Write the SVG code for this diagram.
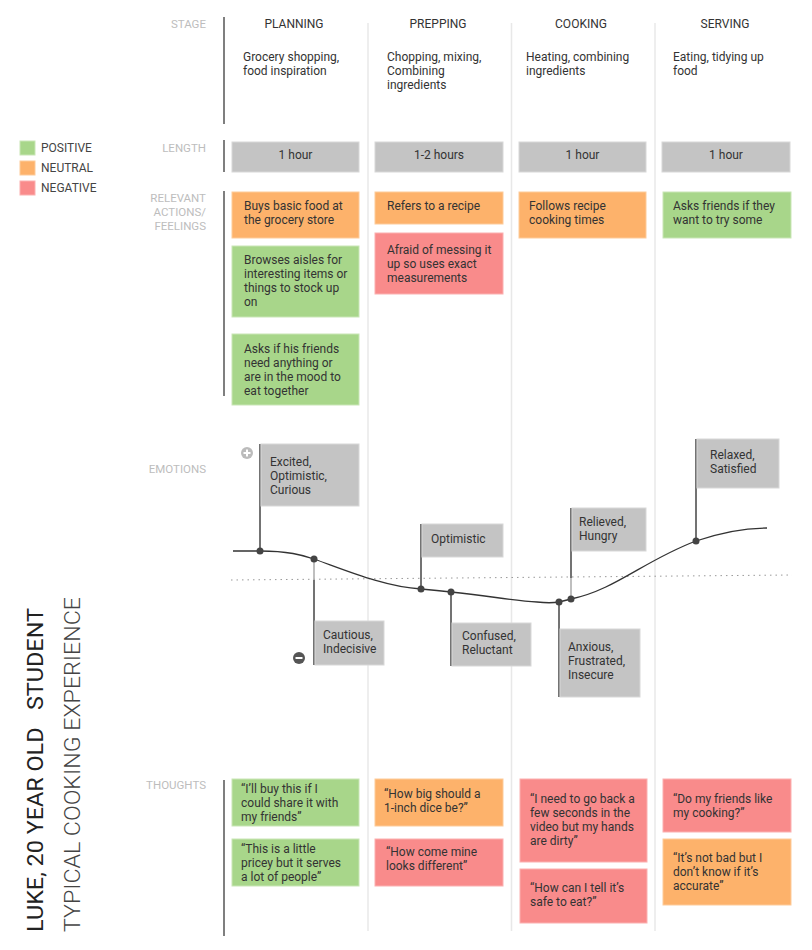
<svg xmlns="http://www.w3.org/2000/svg" width="812" height="950" viewBox="0 0 812 950">
<style>
text{font-family:Roboto,"Liberation Sans",Arial,sans-serif}
.lbl{fill:#bdbdbd;font-size:11.5px;text-anchor:end}
.ttl{fill:#333;font-size:12px;text-anchor:middle}
.txt{fill:#333;font-size:12px}
.ctr{fill:#333;font-size:12px;text-anchor:middle}
.leg{fill:#444;font-size:12px}
.pos{fill:#a8d68a;stroke:#c9e6b6;stroke-width:1}
.neu{fill:#fdb26b;stroke:#fdcb9a;stroke-width:1}
.neg{fill:#f98b8b;stroke:#fbb0b0;stroke-width:1}
.gry{fill:#c4c4c4;stroke:#d8d8d8;stroke-width:1}
.div{stroke:#e8e8e8;stroke-width:1.5}
.bar{stroke:#555;stroke-width:1.5}
.stem{stroke:#444;stroke-width:1.5;fill:none}
.stemL{stroke:#aaa;stroke-width:1.5;fill:none}
.dot{fill:#444}
</style>
<rect width="812" height="950" fill="#fff"/>

<!-- column dividers -->
<g id="dividers">
<line class="div" x1="368" y1="23" x2="368" y2="931"/>
<line class="div" x1="511.5" y1="23" x2="511.5" y2="931"/>
<line class="div" x1="655" y1="23" x2="655" y2="931"/>
<line class="bar" x1="224" y1="17" x2="224" y2="124"/>
<line class="bar" x1="224" y1="140" x2="224" y2="172"/>
<line class="bar" x1="224" y1="191" x2="224" y2="396"/>
<line class="bar" x1="224" y1="780" x2="224" y2="936"/>
</g>

<!-- row labels -->
<g id="row-labels">
<text class="lbl" x="206" y="28">STAGE</text>
<text class="lbl" x="206" y="152">LENGTH</text>
<text class="lbl" x="206" y="202">RELEVANT</text>
<text class="lbl" x="206" y="216">ACTIONS/</text>
<text class="lbl" x="206" y="230">FEELINGS</text>
<text class="lbl" x="206" y="473">EMOTIONS</text>
<text class="lbl" x="206" y="789">THOUGHTS</text>
</g>

<!-- legend -->
<g id="legend">
<rect class="pos" x="20" y="141" width="15" height="14"/>
<text class="leg" x="41" y="152">POSITIVE</text>
<rect class="neu" x="20" y="161" width="15" height="14"/>
<text class="leg" x="41" y="172">NEUTRAL</text>
<rect class="neg" x="20" y="181" width="15" height="14"/>
<text class="leg" x="41" y="192">NEGATIVE</text>
</g>

<!-- title -->
<g id="title">
<text transform="translate(43,932) rotate(-90)" font-size="22" fill="#222" textLength="324" lengthAdjust="spacingAndGlyphs" style="white-space:pre">LUKE, 20 YEAR OLD   STUDENT</text>
<text transform="translate(80,932) rotate(-90)" font-size="22" font-weight="300" fill="#444" textLength="335" lengthAdjust="spacingAndGlyphs">TYPICAL COOKING EXPERIENCE</text>
</g>

<!-- stages -->
<g id="stage-planning">
<text class="ttl" x="294" y="28">PLANNING</text>
<text class="txt" x="243" y="61">Grocery shopping,</text>
<text class="txt" x="243" y="75">food inspiration</text>
</g>
<g id="stage-prepping">
<text class="ttl" x="438" y="28">PREPPING</text>
<text class="txt" x="387" y="61">Chopping, mixing,</text>
<text class="txt" x="387" y="75">Combining</text>
<text class="txt" x="387" y="89">ingredients</text>
</g>
<g id="stage-cooking">
<text class="ttl" x="581" y="28">COOKING</text>
<text class="txt" x="526" y="61">Heating, combining</text>
<text class="txt" x="526" y="75">ingredients</text>
</g>
<g id="stage-serving">
<text class="ttl" x="725" y="28">SERVING</text>
<text class="txt" x="673" y="61">Eating, tidying up</text>
<text class="txt" x="673" y="75">food</text>
</g>

<!-- length -->
<g id="length-planning"><rect class="gry" x="232" y="142" width="127" height="30"/><text class="ctr" x="295.5" y="159">1 hour</text></g>
<g id="length-prepping"><rect class="gry" x="375" y="142" width="128" height="30"/><text class="ctr" x="439" y="159">1-2 hours</text></g>
<g id="length-cooking"><rect class="gry" x="519" y="142" width="127" height="30"/><text class="ctr" x="582.5" y="159">1 hour</text></g>
<g id="length-serving"><rect class="gry" x="662" y="142" width="128" height="30"/><text class="ctr" x="726" y="159">1 hour</text></g>

<!-- actions -->
<g id="action-planning-1"><rect class="neu" x="232" y="192" width="127" height="46"/>
<text class="txt" x="244" y="210">Buys basic food at</text><text class="txt" x="244" y="224">the grocery store</text></g>
<g id="action-planning-2"><rect class="pos" x="232" y="246" width="127" height="71"/>
<text class="txt" x="244" y="264">Browses aisles for</text><text class="txt" x="244" y="278">interesting items or</text><text class="txt" x="244" y="292">things to stock up</text><text class="txt" x="244" y="306">on</text></g>
<g id="action-planning-3"><rect class="pos" x="232" y="334" width="127" height="71"/>
<text class="txt" x="244" y="353">Asks if his friends</text><text class="txt" x="244" y="367">need anything or</text><text class="txt" x="244" y="381">are in the mood to</text><text class="txt" x="244" y="395">eat together</text></g>
<g id="action-prepping-1"><rect class="neu" x="375" y="192" width="128" height="32"/>
<text class="txt" x="387" y="210">Refers to a recipe</text></g>
<g id="action-prepping-2"><rect class="neg" x="375" y="233" width="128" height="61"/>
<text class="txt" x="387" y="254">Afraid of messing it</text><text class="txt" x="387" y="268">up so uses exact</text><text class="txt" x="387" y="282">measurements</text></g>
<g id="action-cooking-1"><rect class="neu" x="519" y="192" width="127" height="46"/>
<text class="txt" x="529" y="210">Follows recipe</text><text class="txt" x="529" y="224">cooking times</text></g>
<g id="action-serving-1"><rect class="pos" x="663" y="192" width="128" height="46"/>
<text class="txt" x="673" y="210">Asks friends if they</text><text class="txt" x="673" y="224">want to try some</text></g>

<!-- emotion axis icons -->
<g id="icon-plus">
<circle cx="247" cy="453" r="6" fill="#bbb"/>
<path d="M243.5 453h7M247 449.5v7" stroke="#fff" stroke-width="2"/>
</g>
<g id="icon-minus">
<circle cx="299" cy="658" r="6" fill="#555"/>
<path d="M295.5 658h7" stroke="#fff" stroke-width="2"/>
</g>

<!-- connectors: curve, baseline, stems, dots -->
<g id="connectors">
<line x1="231" y1="580" x2="792" y2="575" stroke="#999" stroke-width="1" stroke-dasharray="1.5 4"/>
<path d="M233 551 L260 551 C288 551 302 555 314 559 C345 570 385 587 421 589 C432 590 442 591 451 592 C490 596 515 601 537 602 C546 603 553 603 559 602 C563 601 567 600 571 599 C615 590 645 560 696 541 C725 531 745 528 767 528" fill="none" stroke="#333" stroke-width="1.3"/>
<line class="stem" x1="260" y1="444" x2="260" y2="551"/>
<line class="stemL" x1="314" y1="559" x2="314" y2="580"/>
<line class="stem" x1="314" y1="580" x2="314" y2="665"/>
<line class="stem" x1="421" y1="524" x2="421" y2="589"/>
<line class="stem" x1="451" y1="592" x2="451" y2="666"/>
<line class="stem" x1="559" y1="602" x2="559" y2="697"/>
<line class="stem" x1="571" y1="508" x2="571" y2="578"/>
<line class="stemL" x1="571" y1="578" x2="571" y2="599"/>
<line class="stem" x1="696" y1="439" x2="696" y2="541"/>
<circle class="dot" cx="260" cy="551" r="3.5"/>
<circle class="dot" cx="314" cy="559" r="3.5"/>
<circle class="dot" cx="421" cy="589" r="3.5"/>
<circle class="dot" cx="451" cy="592" r="3.5"/>
<circle class="dot" cx="559" cy="602" r="3.5"/>
<circle class="dot" cx="571" cy="599" r="3.5"/>
<circle class="dot" cx="696" cy="541" r="3.5"/>
</g>

<!-- emotion boxes -->
<g id="emotion-excited"><rect class="gry" x="261" y="444" width="98" height="62"/>
<text class="txt" x="270" y="466">Excited,</text><text class="txt" x="270" y="480">Optimistic,</text><text class="txt" x="270" y="494">Curious</text></g>
<g id="emotion-cautious"><rect class="gry" x="315" y="621" width="69" height="44"/>
<text class="txt" x="323" y="639">Cautious,</text><text class="txt" x="323" y="653">Indecisive</text></g>
<g id="emotion-optimistic"><rect class="gry" x="422" y="524" width="81" height="33"/>
<text class="txt" x="431" y="543">Optimistic</text></g>
<g id="emotion-confused"><rect class="gry" x="452" y="623" width="79" height="43"/>
<text class="txt" x="462" y="640">Confused,</text><text class="txt" x="462" y="654">Reluctant</text></g>
<g id="emotion-anxious"><rect class="gry" x="560" y="629" width="80" height="68"/>
<text class="txt" x="568" y="651">Anxious,</text><text class="txt" x="568" y="665">Frustrated,</text><text class="txt" x="568" y="679">Insecure</text></g>
<g id="emotion-relieved"><rect class="gry" x="572" y="508" width="74" height="43"/>
<text class="txt" x="579" y="526">Relieved,</text><text class="txt" x="579" y="540">Hungry</text></g>
<g id="emotion-relaxed"><rect class="gry" x="697" y="439" width="82" height="49"/>
<text class="txt" x="710" y="459">Relaxed,</text><text class="txt" x="710" y="473">Satisfied</text></g>

<!-- thoughts -->
<g id="thought-planning-1"><rect class="pos" x="232" y="779" width="127" height="47"/>
<text class="txt" x="241" y="793">“I’ll buy this if I</text><text class="txt" x="241" y="807">could share it with</text><text class="txt" x="241" y="821">my friends”</text></g>
<g id="thought-planning-2"><rect class="pos" x="232" y="839" width="127" height="47"/>
<text class="txt" x="241" y="853">“This is a little</text><text class="txt" x="241" y="867">pricey but it serves</text><text class="txt" x="241" y="881">a lot of people”</text></g>
<g id="thought-prepping-1"><rect class="neu" x="375" y="779" width="128" height="47"/>
<text class="txt" x="384" y="798">“How big should a</text><text class="txt" x="384" y="812">1-inch dice be?”</text></g>
<g id="thought-prepping-2"><rect class="neg" x="375" y="839" width="128" height="47"/>
<text class="txt" x="386" y="856">“How come mine</text><text class="txt" x="386" y="870">looks different”</text></g>
<g id="thought-cooking-1"><rect class="neg" x="520" y="779" width="127" height="83"/>
<text class="txt" x="530" y="803">“I need to go back a</text><text class="txt" x="530" y="817">few seconds in the</text><text class="txt" x="530" y="831">video but my hands</text><text class="txt" x="530" y="845">are dirty”</text></g>
<g id="thought-cooking-2"><rect class="neg" x="520" y="869" width="127" height="54"/>
<text class="txt" x="530" y="892">“How can I tell it’s</text><text class="txt" x="530" y="906">safe to eat?”</text></g>
<g id="thought-serving-1"><rect class="neg" x="663" y="779" width="128" height="53"/>
<text class="txt" x="673" y="803">“Do my friends like</text><text class="txt" x="673" y="817">my cooking?”</text></g>
<g id="thought-serving-2"><rect class="neu" x="663" y="839" width="128" height="66"/>
<text class="txt" x="673" y="862">“It’s not bad but I</text><text class="txt" x="673" y="876">don’t know if it’s</text><text class="txt" x="673" y="890">accurate”</text></g>
</svg>
